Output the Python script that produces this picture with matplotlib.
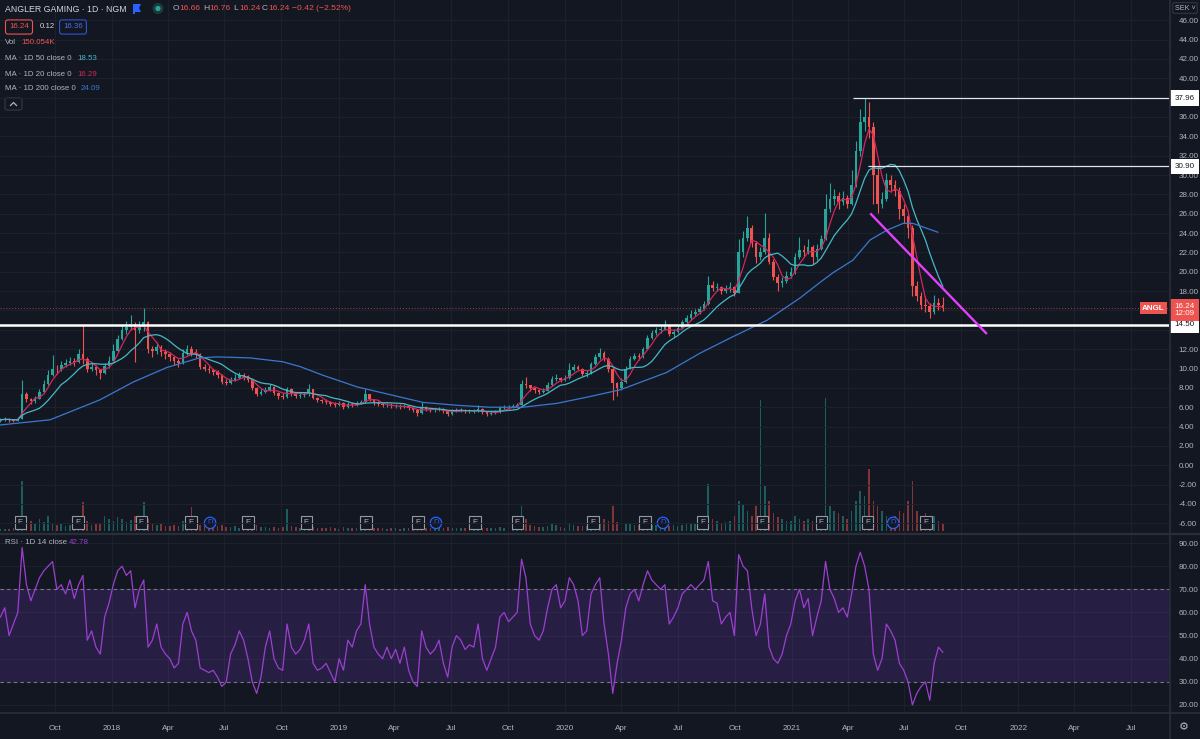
import numpy as np
import pandas as pd
import matplotlib.pyplot as plt
import matplotlib.dates as mdates
import matplotlib.transforms as mtransforms
from matplotlib.patches import Circle, FancyBboxPatch, Polygon
from matplotlib.lines import Line2D

plt.rcParams['font.family'] = ['Liberation Sans', 'DejaVu Sans']

# ---- weekly bars (first week starts 2017-07-03) ----
close = [
    4.7, 4.8, 4.7, 4.6, 4.8,  7.4, 6.9, 6.6, 6.9,  7.6, 8.4, 9.3, 10.0,
    9.9, 10.4, 10.6, 10.8, 10.7,  11.5, 11.0, 10.0, 10.2,  9.8, 9.5, 10.3, 10.8,
    # 2018
    11.8, 13.0, 14.0, 14.3, 14.6,  14.0, 14.3, 14.8, 12.0,  11.8, 12.2, 11.7, 11.5,
    11.2, 10.8, 10.6, 11.6, 12.0,  11.6, 11.5, 10.2, 10.0,  9.8, 9.6, 9.3, 8.6,
    8.5, 8.8, 9.0, 9.3, 9.2,  8.8, 8.0, 7.4, 7.6,  7.8, 8.1, 7.5, 7.2,
    7.1, 7.9, 7.4, 7.2, 7.3,  7.4, 7.9, 7.0, 6.7,  6.6, 6.5, 6.3, 6.2, 6.4,
    # 2019
    6.0, 6.3, 6.2, 6.4,  6.5, 7.4, 6.8, 6.4,  6.3, 6.2, 6.2, 6.1,
    6.1, 6.0, 6.1, 5.9, 5.7,  5.4, 6.0, 5.8, 5.7,  5.7, 5.8, 5.6, 5.3,
    5.6, 5.7, 5.7, 5.6, 5.6,  5.6, 5.8, 5.5, 5.3,  5.4, 5.5, 5.9, 6.0, 6.0,
    6.1, 6.2, 8.4, 8.3,  8.0, 7.8, 7.6, 7.7,  8.3, 8.9, 9.0, 8.8, 9.0,
    # 2020
    9.8, 10.2, 10.0, 9.4,  9.5, 10.5, 11.2, 11.6,  11.0, 10.0, 8.5, 8.0, 8.6,
    10.0, 11.0, 11.3, 11.2,  12.0, 13.2, 13.7, 14.0,  14.0, 14.4, 13.6, 13.8, 14.2,
    14.8, 15.2, 15.6, 15.8,  16.2, 16.7, 18.6, 18.3, 18.4,  18.0, 18.2, 18.4, 17.8,
    22.0, 23.5, 24.5, 23.0,  21.5, 22.0, 23.5, 21.0, 19.5,  18.8, 19.0, 19.6, 20.0,
    # 2021
    21.5, 22.2, 22.0, 22.6,  21.5, 22.4, 23.4, 26.5,  27.5, 27.8, 27.2, 27.6, 27.0,
    29.0, 32.5, 35.5, 36.0,  35.0, 30.0, 27.0, 27.5, 29.5,  29.0, 28.3, 26.5, 25.8,
    24.5, 18.5, 17.5, 16.6,  16.5, 15.8, 16.8, 16.6, 16.24,
]
high = [
    4.9, 5.0, 4.9, 4.8, 5.0,  8.8, 7.6, 7.0, 7.2,  7.9, 8.8, 9.8, 11.4,
    10.4, 10.8, 11.0, 11.2, 11.1,  12.0, 14.5, 11.2, 10.6,  10.4, 10.0, 10.6, 11.3,
    12.5, 13.5, 14.6, 14.9, 15.5,  14.8, 14.9, 16.3, 14.9,  12.3, 12.7, 12.4, 12.0,
    11.7, 11.3, 11.0, 12.0, 12.4,  12.3, 12.0, 11.6, 10.5,  10.3, 10.0, 9.8, 9.4,
    8.9, 9.1, 9.4, 9.6, 9.5,  9.3, 8.9, 8.1, 7.9,  8.1, 8.4, 8.2, 7.6,
    7.5, 8.1, 8.0, 7.6, 7.6,  7.6, 8.4, 7.9, 7.1,  6.9, 6.8, 6.6, 6.5, 6.6,
    6.5, 6.5, 6.5, 6.6,  6.7, 7.9, 7.4, 6.9,  6.6, 6.5, 6.4, 6.4,
    6.3, 6.3, 6.3, 6.2, 6.0,  5.8, 6.5, 6.1, 5.9,  5.9, 6.0, 5.9, 5.7,
    5.8, 5.9, 5.9, 5.8, 5.8,  5.8, 6.2, 5.9, 5.6,  5.6, 5.7, 6.1, 6.2, 6.2,
    6.3, 6.4, 8.8, 9.1,  8.3, 8.1, 7.9, 8.0,  8.6, 9.2, 9.4, 9.1, 9.3,
    10.6, 10.5, 10.4, 10.1,  9.8, 10.7, 11.5, 12.1,  11.8, 11.2, 10.2, 8.6, 9.0,
    10.3, 11.3, 11.6, 11.6,  12.2, 13.5, 14.0, 14.3,  14.4, 15.0, 14.5, 14.1, 14.5,
    15.0, 15.5, 16.0, 16.2,  16.5, 17.0, 19.6, 19.0, 18.8,  18.5, 18.6, 18.9, 18.5,
    23.4, 24.2, 25.8, 24.8,  23.2, 22.6, 26.1, 24.0, 21.3,  19.8, 19.5, 20.1, 20.5,
    21.9, 23.6, 22.8, 23.4,  22.8, 22.9, 23.8, 28.0,  29.2, 28.6, 28.2, 28.3, 27.9,
    30.5, 33.5, 36.8, 37.96,  37.5, 35.5, 30.9, 28.2, 30.2,  30.0, 29.5, 28.8, 27.0,
    26.0, 24.8, 19.0, 17.9,  17.5, 16.8, 17.6, 17.3, 17.4,
]
low = [
    4.5, 4.6, 4.5, 4.5, 4.6,  4.8, 6.5, 6.3, 6.4,  6.8, 7.5, 8.3, 9.2,
    9.4, 9.7, 10.2, 10.4, 10.3,  10.6, 10.5, 9.6, 9.7,  9.3, 8.9, 9.4, 10.1,
    10.8, 11.7, 12.9, 13.6, 14.0,  10.7, 13.7, 13.9, 11.6,  11.2, 11.5, 11.3, 11.0,
    10.8, 10.4, 10.2, 10.5, 11.4,  11.3, 11.1, 10.0, 9.7,  9.5, 9.3, 9.0, 8.4,
    8.3, 8.4, 8.7, 8.9, 8.8,  8.6, 7.8, 7.2, 7.3,  7.5, 7.7, 7.3, 6.9,
    6.8, 7.0, 7.2, 7.0, 7.0,  7.1, 7.2, 6.9, 6.5,  6.4, 6.3, 6.1, 6.0, 6.1,
    5.8, 5.9, 6.0, 6.1,  6.3, 6.4, 6.6, 6.2,  6.1, 6.0, 6.0, 5.9,
    5.9, 5.8, 5.9, 5.7, 5.5,  5.1, 5.3, 5.6, 5.5,  5.5, 5.6, 5.4, 5.1,
    5.2, 5.5, 5.5, 5.4, 5.4,  5.4, 5.5, 5.3, 5.1,  5.2, 5.3, 5.4, 5.8, 5.8,
    5.9, 6.0, 6.2, 8.0,  7.7, 7.5, 7.4, 7.5,  7.7, 8.2, 8.7, 8.6, 8.7,
    8.9, 9.7, 9.8, 9.2,  9.1, 9.4, 10.4, 11.0,  10.8, 9.6, 6.7, 7.2, 7.8,
    8.5, 9.9, 10.9, 10.9,  11.1, 11.9, 13.0, 13.5,  13.7, 14.0, 13.4, 13.3, 13.7,
    14.1, 14.7, 15.0, 15.4,  15.6, 16.0, 16.6, 18.0, 18.0,  17.7, 17.8, 17.9, 17.5,
    17.8, 21.5, 23.2, 22.6,  20.9, 21.2, 21.8, 20.8, 19.2,  18.0, 18.4, 18.8, 19.4,
    19.8, 21.3, 21.5, 21.8,  20.8, 21.2, 22.2, 23.3,  26.2, 26.9, 26.5, 26.9, 26.6,
    26.9, 28.8, 32.0, 34.5,  33.8, 27.0, 26.1, 26.6, 27.3,  28.2, 27.8, 25.5, 25.0,
    23.5, 17.5, 17.0, 16.2,  15.8, 15.2, 15.6, 16.0, 15.9,
]
first_open = 4.6

# volume, thousands of shares (tallest daily bar seen in each week)
volume = [
    80, 80, 80, 120, 120,  2000, 560, 400, 320,  480, 360, 600, 320,
    240, 280, 200, 240, 200,  320, 1160, 400, 240,  280, 320, 600, 480,
    400, 560, 480, 360, 440,  600, 400, 1160, 480,  320, 240, 280, 200,
    200, 240, 200, 400, 280,  960, 320, 240, 240,  200, 160, 200, 240,
    160, 160, 200, 120, 160,  200, 160, 240, 160,  160, 120, 160, 120,
    160, 880, 200, 160, 120,  160, 240, 160, 120,  120, 120, 160, 120, 80,
    160, 120, 120, 120,  120, 320, 200, 120,  120, 120, 80, 120,
    120, 80, 120, 120, 120,  200, 160, 120, 120,  120, 120, 120, 160,
    120, 120, 120, 120, 120,  120, 160, 120, 120,  120, 120, 160, 120, 120,
    160, 160, 1000, 480,  240, 200, 160, 160,  200, 280, 240, 160, 120,
    320, 240, 200, 200,  200, 280, 400, 320,  480, 400, 1000, 360, 320,
    320, 280, 240, 240,  320, 360, 240, 240,  280, 240, 200, 240, 200,
    240, 280, 320, 280,  320, 400, 1880, 480, 400,  320, 360, 400, 600,
    1200, 1080, 800, 600,  1000, 5280, 1800, 1200, 720,  560, 480, 400, 400,
    600, 480, 400, 480,  400, 480, 600, 5360,  1000, 800, 720, 600, 480,
    800, 1200, 1600, 1400,  2480, 1200, 1000, 800, 600,  480, 600, 800, 720,
    1200, 2000, 800, 600,  720, 480, 600, 400, 320,
]

rsi = [
    58, 62, 50, 55, 60,  88, 72, 65, 70,  75, 78, 80, 82,
    70, 72, 68, 74, 66,  72, 76, 48, 52,  45, 42, 58, 64,
    72, 78, 80, 76, 78,  62, 70, 74, 45,  48, 55, 45, 42,
    40, 36, 38, 55, 60,  52, 48, 36, 35,  34, 35, 32, 28,
    30, 42, 46, 52, 48,  40, 30, 25, 32,  45, 52, 40, 36,
    35, 55, 45, 42, 44,  48, 55, 38, 35,  36, 38, 34, 30, 40,
    35, 48, 45, 52,  55, 72, 55, 45,  42, 40, 45, 40,
    44, 38, 45, 35, 30,  28, 52, 45, 42,  44, 48, 38, 32,
    45, 50, 48, 44, 46,  45, 55, 40, 35,  40, 45, 58, 60, 56,
    58, 60, 83, 75,  55, 50, 48, 52,  62, 70, 72, 62, 65,
    75, 72, 65, 50,  52, 68, 72, 75,  55, 42, 25, 38, 48,
    62, 68, 70, 65,  72, 78, 74, 72,  70, 72, 55, 58, 62,
    68, 70, 72, 70,  72, 74, 82, 65, 64,  55, 58, 60, 50,
    85, 80, 78, 62,  50, 55, 68, 45, 40,  38, 42, 50, 55,
    65, 70, 62, 66,  50, 58, 65, 82,  70, 66, 60, 62, 58,
    68, 80, 86, 80,  70, 42, 35, 40, 55,  52, 48, 38, 35,
    30, 20, 25, 28,  30, 22, 38, 45, 42.78,
]

# 200-day MA
ma200_dates = ['2017-07-04', '2017-09-23', '2017-12-12', '2018-02-04', '2018-03-30',
               '2018-05-22', '2018-06-19', '2018-08-11', '2018-10-03', '2018-10-31',
               '2018-12-07', '2019-01-31', '2019-03-25', '2019-05-17', '2019-07-11',
               '2019-09-02', '2019-10-25', '2019-12-19', '2020-02-10', '2020-03-30',
               '2020-04-20', '2020-06-13', '2020-08-06', '2020-09-28', '2020-11-22',
               '2021-01-14', '2021-02-15', '2021-03-08', '2021-04-09', '2021-05-07',
               '2021-06-03', '2021-06-29', '2021-07-15', '2021-08-06', '2021-08-24']
ma200_vals = [4.16, 4.7, 6.75, 8.6, 10.1, 11.1, 11.2, 11.1, 10.7, 10.2,
              9.3, 8.1, 7.3, 6.5, 6.2, 6.0, 6.0, 6.4, 7.1, 7.8,
              8.3, 9.6, 11.6, 13.3, 15.0, 17.3, 18.9, 19.9, 21.2, 23.3,
              24.3, 25.0, 25.0, 24.5, 24.09]

earnings_dates = ['2017-08-06', '2017-11-07', '2018-02-17', '2018-05-08', '2018-08-08',
                  '2018-11-10', '2019-02-14', '2019-05-09', '2019-08-09', '2019-10-16',
                  '2020-02-15', '2020-05-09', '2020-08-10', '2020-11-14', '2021-02-17',
                  '2021-05-03', '2021-08-05']
dividend_dates = ['2018-06-08', '2019-06-07', '2020-06-07', '2021-06-13']

level_prices = [37.96, 30.90, 14.50]
level_starts = ['2021-04-09', '2021-05-03', None]
last_price = 16.24
trend_dates = ['2021-05-07', '2021-11-11']
trend_prices = [26.04, 13.57]

legend_ohlc = [('O', '16.66'), ('H', '16.76'), ('L', '16.24'), ('C', '16.24')]

# ---- colours ----
BG = '#131722'
GRID = '#1e222d'
SEP = '#2a2e39'
TXT = '#b2b5be'
TITLE = '#d1d4dc'
UP = '#26a69a'
DN = '#ef5350'
C_MA50 = '#47b8c6'
C_MA20 = '#d3265e'
C_MA200 = '#3a78d0'
C_RSI = '#9c3fd0'

W, H = 1200, 739
fig = plt.figure(figsize=(W / 100, H / 100), dpi=100, facecolor=BG)


def rect(top, bottom, right=1169):
    return [0, 1 - bottom / H, right / W, (bottom - top) / H]


ax = fig.add_axes(rect(0, 533))
ax_vol = ax.twinx()
ax_rsi = fig.add_axes(rect(535, 712), sharex=ax)
ax.set_zorder(ax_vol.get_zorder() + 1)
ax.patch.set_visible(False)
ax_vol.patch.set_visible(True)
ax_vol.patch.set_facecolor(BG)
ax_rsi.set_facecolor(BG)

n = min(len(close), len(high), len(low), len(volume), len(rsi))
weeks = pd.date_range('2017-07-03', periods=n, freq='W-MON') + pd.Timedelta(days=2)
xs = mdates.date2num(weeks.to_pydatetime())
c = np.array(close[:n])
o = np.r_[first_open, c[:-1]]
hi = np.maximum(np.array(high[:n]), np.maximum(o, c))
lo = np.minimum(np.array(low[:n]), np.minimum(o, c))
up = c >= o
cols = np.where(up, UP, DN)

# candles
ax.vlines(xs, lo, hi, colors=cols, lw=0.8, zorder=3)
ax.bar(xs, np.maximum(np.abs(c - o), 0.06), bottom=np.minimum(o, c), width=4.2,
       color=cols, lw=0, zorder=4)

# moving averages
s = pd.Series(c)
ax.plot(xs, s.rolling(4, min_periods=1).mean(), color=C_MA20, lw=0.9, zorder=5)
ax.plot(xs, s.rolling(10, min_periods=1).mean(), color=C_MA50, lw=0.9, zorder=5)
ax.plot(mdates.date2num(pd.to_datetime(ma200_dates).to_pydatetime()), ma200_vals,
        color=C_MA200, lw=0.9, zorder=5)

# levels
ylab = mtransforms.blended_transform_factory(ax.transAxes, ax.transData)
for p, st in zip(level_prices, level_starts):
    if st is None:
        ax.axhline(p, color='white', lw=1.8, zorder=6)
    else:
        x0 = mdates.date2num(pd.Timestamp(st))
        ax.hlines(p, x0, mdates.date2num(pd.Timestamp('2023-01-01')), color='#e0e3eb', lw=0.9, zorder=6)
    ax.annotate(f'{p:.2f}', xy=(1, p), xycoords=ylab, xytext=(11.2, 0),
                textcoords='offset points', ha='center', va='center', fontsize=5.8,
                color=BG, annotation_clip=False, zorder=10,
                bbox=dict(boxstyle='square,pad=0.5', fc='white', ec='none'))

ax.axhline(last_price, color=DN, lw=0.7, ls=(0, (1, 2)), alpha=0.7, zorder=2)
ax.annotate(f'{last_price:.2f}\n12:09', xy=(1, last_price), xycoords=ylab,
            xytext=(11.2, 4.0), textcoords='offset points', ha='center', va='top',
            fontsize=5.8, color='white', linespacing=1.05, annotation_clip=False, zorder=11,
            bbox=dict(boxstyle='square,pad=0.5', fc=DN, ec='none'))
ax.annotate('ANGL', xy=(1, last_price), xycoords=ylab, xytext=(-3, 0),
            textcoords='offset points', ha='right', va='center', fontsize=5.8,
            color='white', fontweight='bold', annotation_clip=False, zorder=11,
            bbox=dict(boxstyle='square,pad=0.3', fc=DN, ec='none'))

# trend line
ax.plot(mdates.date2num(pd.to_datetime(trend_dates).to_pydatetime()), trend_prices,
        color='#e040fb', lw=1.7, zorder=7, solid_capstyle='butt')

# volume overlay
ax_vol.bar(xs, volume[:n], width=2.6, color=cols, alpha=0.5, lw=0)
ax_vol.set_ylim(-80, 21320)
ax_vol.set_yticks([])
mk = mtransforms.blended_transform_factory(ax_vol.transData, ax_vol.transAxes)
for d in earnings_dates:
    ax_vol.text(mdates.date2num(pd.Timestamp(d)), 0.019, 'E', transform=mk, ha='center',
                va='center', fontsize=5.6, color=TXT, zorder=12,
                bbox=dict(boxstyle='square,pad=0.4', fc=BG, ec='#9598a1', lw=0.8))
for d in dividend_dates:
    ax_vol.text(mdates.date2num(pd.Timestamp(d)), 0.019, 'D', transform=mk, ha='center',
                va='center', fontsize=5.6, color='#2962ff', zorder=12,
                bbox=dict(boxstyle='circle,pad=0.28', fc=BG, ec='#2962ff', lw=0.9))

# RSI
ax_rsi.axhspan(30, 70, color='#7b3fd0', alpha=0.2, lw=0)
for v in (70, 30):
    ax_rsi.axhline(v, color='#787b86', lw=0.8, ls=(0, (3, 3)))
ax_rsi.plot(xs, rsi[:n], color=C_RSI, lw=0.9)
ax_rsi.set_ylim(16.97, 93.46)

# axes, ticks, grid
ax.set_xlim(mdates.date2num(pd.Timestamp('2017-07-04 08:00')),
            mdates.date2num(pd.Timestamp('2022-08-31 14:00')))
ax.set_ylim(-7.0, 48.09)
ticks = pd.date_range('2017-10-01', '2022-07-01', freq='QS')
ax_rsi.set_xticks(mdates.date2num(ticks.to_pydatetime()))
ax_rsi.set_xticklabels([str(t.year) if t.month == 1 else t.strftime('%b') for t in ticks])

ax.set_yticks(np.arange(-6, 47, 2))
ax.yaxis.set_major_formatter(plt.FormatStrFormatter('%.2f'))
ax_rsi.set_yticks(np.arange(20, 91, 10))
ax_rsi.yaxis.set_major_formatter(plt.FormatStrFormatter('%.2f'))
for a in (ax, ax_rsi):
    a.yaxis.tick_right()
    a.tick_params(axis='y', length=0, pad=7, labelsize=5.8, labelcolor=TXT,
                  left=False, labelleft=False, right=False, labelright=True)
    a.grid(True, color=GRID, lw=0.7)
    a.set_axisbelow(True)
    for sp in a.spines.values():
        sp.set_visible(False)
for sp in ax_vol.spines.values():
    sp.set_visible(False)
ax.tick_params(axis='x', length=0, labelbottom=False)
ax_rsi.tick_params(axis='x', length=0, pad=9, labelsize=5.9, labelcolor=TXT)

# pane separators
px = mtransforms.IdentityTransform()
fig.add_artist(Line2D([0, W], [H - 534, H - 534], color=SEP, lw=1.6, transform=px))
fig.add_artist(Line2D([0, W], [H - 712.5, H - 712.5], color=SEP, lw=1.2, transform=px))
fig.add_artist(Line2D([1169.5, 1169.5], [0, H], color=SEP, lw=1.2, transform=px))


def ftext(x, y, s, **kw):
    kw.setdefault('fontsize', 5.7)
    kw.setdefault('color', TXT)
    fig.text(x / W, 1 - y / H, s, ha=kw.pop('ha', 'left'), va=kw.pop('va', 'center'), **kw)


# legend block
ftext(5, 9, 'ANGLER GAMING · 1D · NGM', color=TITLE, fontsize=6.3)
fig.add_artist(Polygon([(133, H - 4), (141, H - 4), (139, H - 8), (141, H - 12), (135, H - 12),
                        (135, H - 14), (133, H - 14)], closed=True, fc='#2962ff', ec='none',
                       transform=px))
fig.add_artist(Circle((158, H - 8.5), 5.5, fc='#1b3b38', ec='none', transform=px))
fig.add_artist(Circle((158, H - 8.5), 2.6, fc=UP, ec='none', transform=px))
ox = [173, 203, 233, 262]
for xo, (k, v) in zip(ox, legend_ohlc):
    ftext(xo, 9, k, fontsize=6.1)
    ftext(xo + 6, 9, v, color=DN, fontsize=6.1)
ftext(292, 9, '−0.42 (−2.52%)', color=DN, fontsize=6.1)

ftext(19, 27, '16.24', color=DN, ha='center', fontsize=5.7,
      bbox=dict(boxstyle='round,pad=0.45,rounding_size=0.3', fc=BG, ec=DN, lw=0.8))
ftext(40, 27, '0.12', color=TITLE, fontsize=5.7)
ftext(73, 27, '16.36', color='#4c6fe6', ha='center', fontsize=5.7,
      bbox=dict(boxstyle='round,pad=0.45,rounding_size=0.3', fc=BG, ec='#2f55d4', lw=0.8))
ftext(5, 43, 'Vol')
ftext(21, 43, '150.054K', color=DN)
ftext(5, 59, 'MA · 1D 50 close 0')
ftext(77, 59, '18.53', color=C_MA50)
ftext(5, 74, 'MA · 1D 20 close 0')
ftext(77, 74, '16.29', color=C_MA20)
ftext(5, 89, 'MA · 1D 200 close 0')
ftext(81, 89, '24.09', color=C_MA200)
fig.add_artist(FancyBboxPatch((5, H - 110), 17, 12, boxstyle='round,pad=0,rounding_size=2',
                              fc=BG, ec='#363a45', lw=0.8, transform=px))
fig.add_artist(Line2D([10.5, 13.5, 16.5], [H - 105.5, H - 102.5, H - 105.5], color=TXT,
                      lw=0.9, transform=px))

ftext(5, 543, 'RSI · 1D 14 close')
ftext(69, 543, '42.78', color=C_RSI)

ftext(1185, 8, 'SEK ˅', fontsize=5.2, ha='center',
      bbox=dict(boxstyle='round,pad=0.25,rounding_size=0.2', fc=BG, ec='#363a45', lw=0.7))
ftext(1184, 727, '⚙', fontsize=8, ha='center', family='DejaVu Sans')

fig.savefig('out.png', dpi=100, facecolor=BG)
